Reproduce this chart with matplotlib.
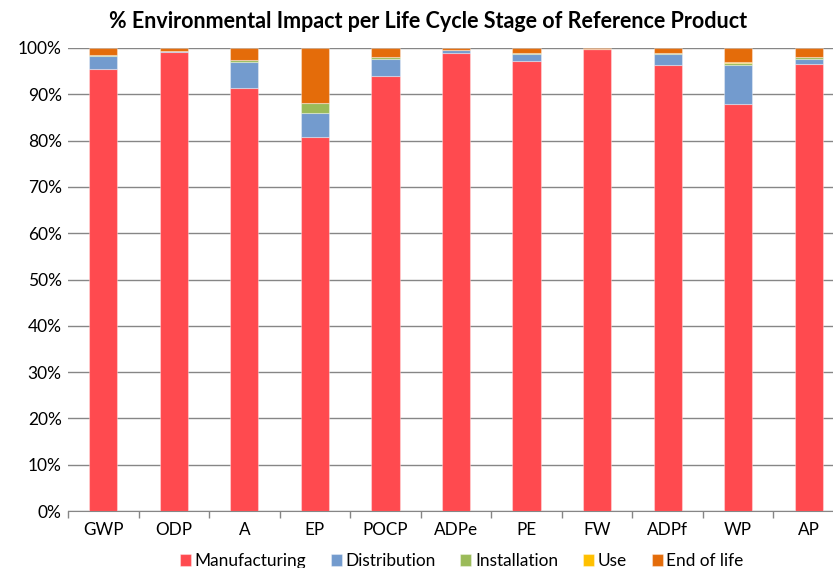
import numpy as np
import matplotlib.pyplot as plt

plt.rcParams['font.family'] = ['Lato', 'DejaVu Sans']

categories = ['GWP', 'ODP', 'A', 'EP', 'POCP', 'ADPe', 'PE', 'FW', 'ADPf', 'WP', 'AP']
manufacturing = [95.4, 99.1, 91.4, 80.7, 94.0, 99.0, 97.2, 99.7, 96.3, 88.0, 96.5]
distribution = [2.8, 0.3, 5.6, 5.2, 3.7, 0.6, 1.6, 0.0, 2.3, 8.3, 1.2]
installation = [0.3, 0.0, 0.4, 2.2, 0.35, 0.0, 0.2, 0.0, 0.3, 0.5, 0.35]
use = [0.0, 0.0, 0.0, 0.0, 0.0, 0.0, 0.0, 0.0, 0.0, 0.1, 0.0]
end_of_life = [1.5, 0.6, 2.6, 11.9, 1.95, 0.4, 1.0, 0.3, 1.1, 3.1, 1.95]

series = [('Manufacturing', manufacturing, '#FF4A4F'),
          ('Distribution', distribution, '#739BCE'),
          ('Installation', installation, '#9BBB59'),
          ('Use', use, '#FFC000'),
          ('End of life', end_of_life, '#E46C0A')]

fig = plt.figure(figsize=(8.33, 5.68), dpi=100)
ax = fig.add_axes([68 / 833, 1 - 511 / 568, 776 / 833, 463 / 568])

x = np.arange(len(categories))
bottom = np.zeros(len(categories))
for name, vals, col in series:
    ax.bar(x, vals, 0.4, bottom=bottom, color=col, label=name,
           edgecolor=(1, 1, 1, 0.35), linewidth=0.8, zorder=3)
    bottom += np.array(vals)

ax.set_xlim(-0.5, len(categories) - 0.5)
ax.set_ylim(0, 100)
ax.set_yticks(np.arange(0, 101, 10))
ax.set_yticklabels([f'{v}%' for v in range(0, 101, 10)], fontsize=12.5)
ax.yaxis.grid(True, color='#868686', linewidth=1)
ax.set_axisbelow(True)
ax.tick_params(axis='y', length=0, pad=4.5)

ax.set_xticks(x)
ax.set_xticklabels(categories, fontsize=12.3)
ax.set_xticks(np.arange(-0.5, len(categories), 1), minor=True)
ax.tick_params(axis='x', which='major', length=0, pad=8)
ax.tick_params(axis='x', which='minor', length=5, color='#868686', width=1)

for s in ['left', 'right', 'top']:
    ax.spines[s].set_visible(False)
ax.spines['bottom'].set_color('#868686')

fig.text(428 / 833, 1 - 22 / 568,
         '% Environmental Impact per Life Cycle Stage of Reference Product',
         fontsize=15.5, fontweight='bold', ha='center', va='center')

ax.legend(loc='center', bbox_to_anchor=(0.507, -0.108), ncol=5, frameon=False,
          fontsize=12.4, handlelength=0.64, handleheight=0.64, handletextpad=0.2,
          columnspacing=1.45, borderpad=0)

fig.savefig('out.png', dpi=100)
